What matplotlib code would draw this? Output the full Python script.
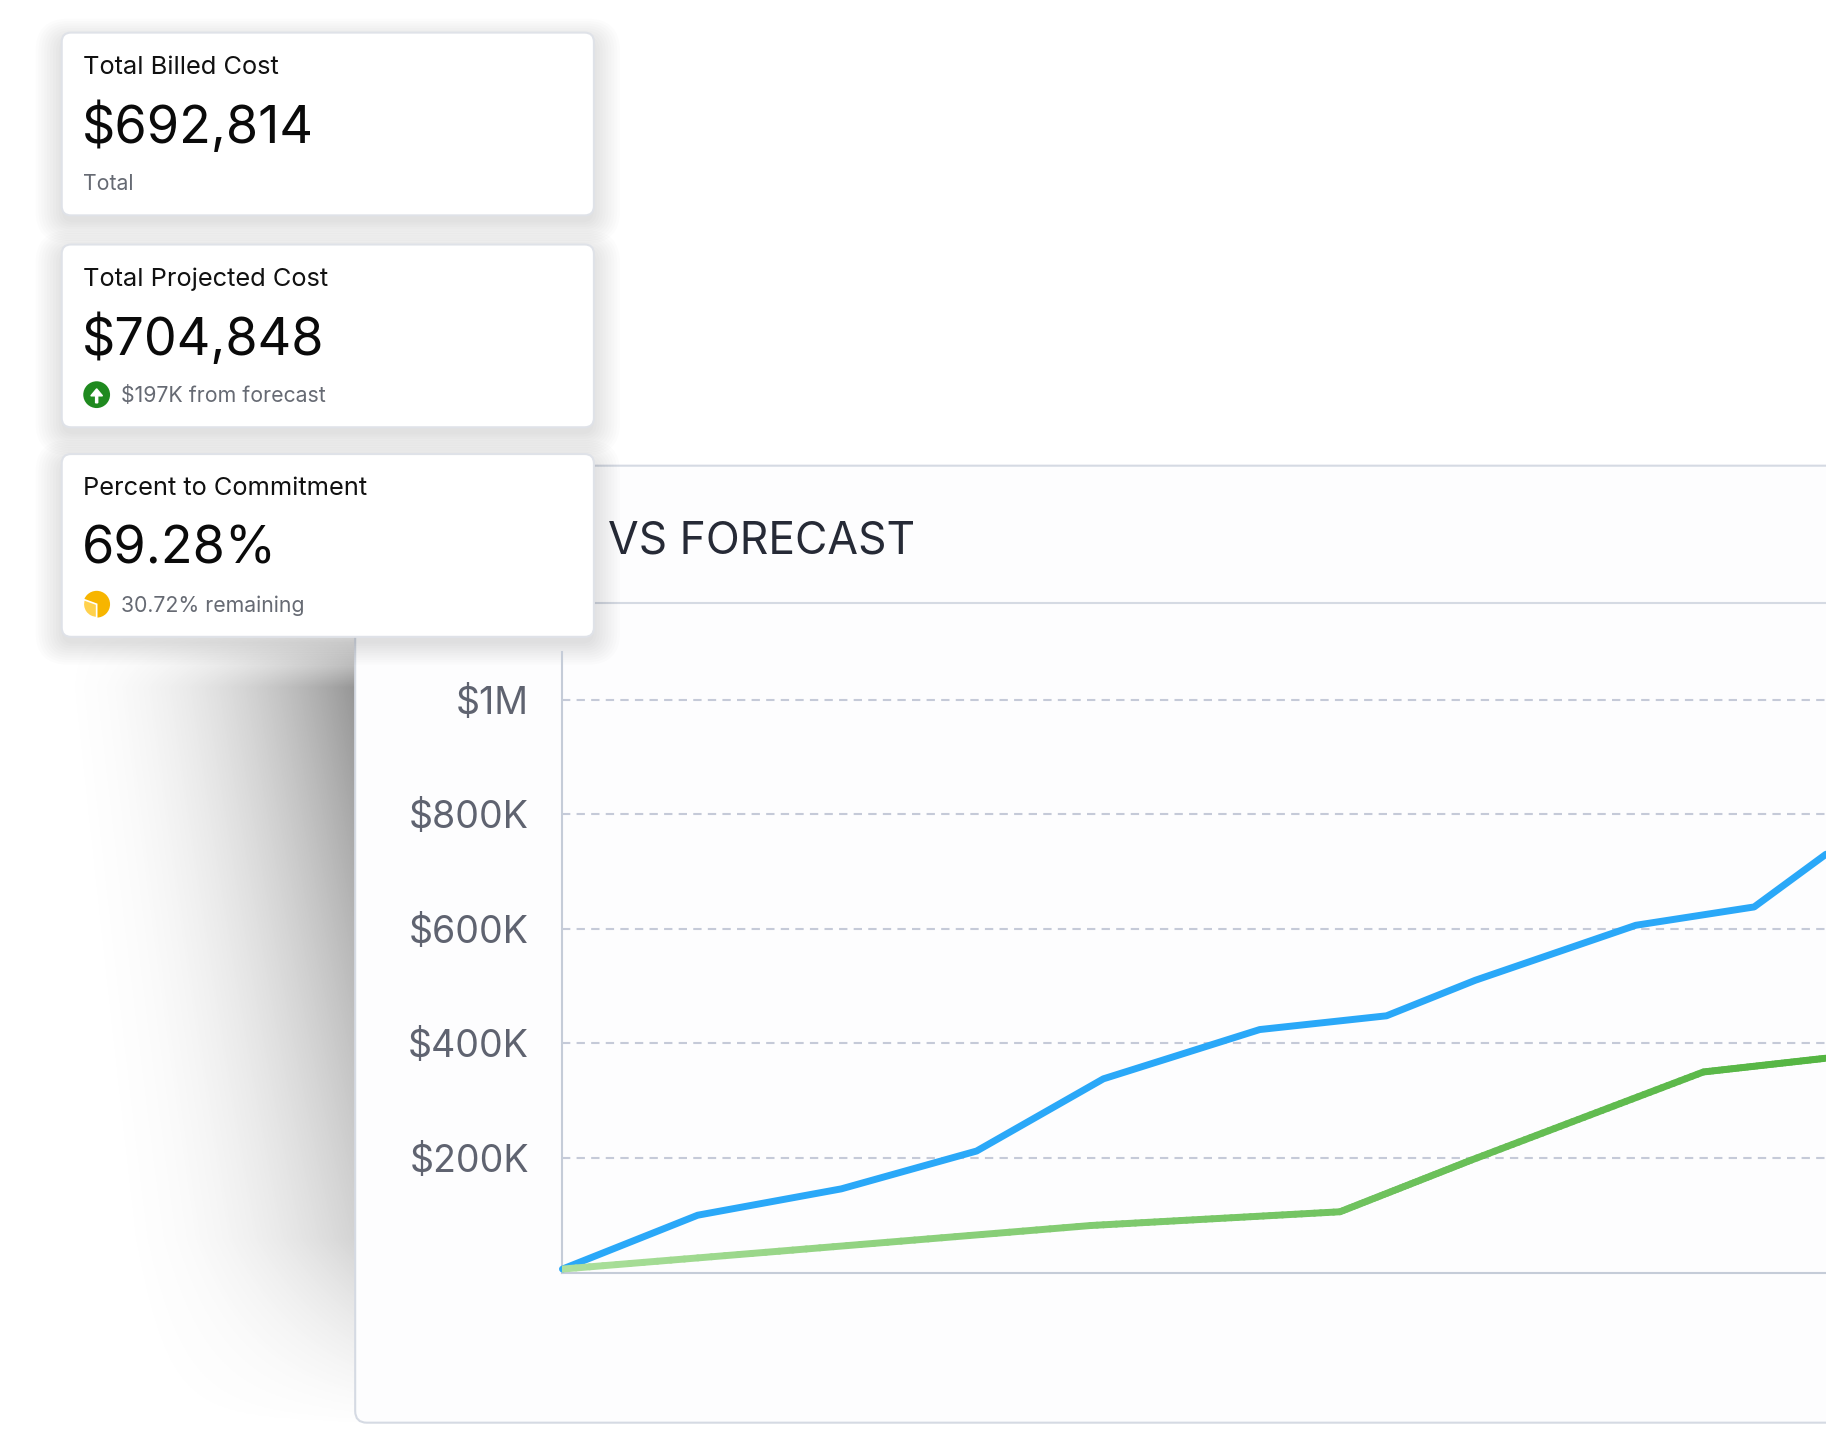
import numpy as np
import matplotlib
matplotlib.use("Agg")
import matplotlib.pyplot as plt
from matplotlib.patches import FancyBboxPatch, Circle, Wedge, FancyArrow
from matplotlib.collections import LineCollection

plt.rcParams['font.family'] = ['Inter', 'DejaVu Sans']

# ---- data ----
blue_days = [0, 3.2, 6.6, 9.8, 12.8, 16.5, 19.5, 21.6, 25.4, 28.2, 29.9]
blue_vals = [6000, 100000, 146000, 212000, 338000, 424000, 448000, 510000, 606000, 638000, 730000]
green_days = [0, 12.5, 18.4, 21.5, 27.0, 29.9]
green_vals = [6000, 82000, 106000, 196000, 350000, 374000]
y_ticks = [200000, 400000, 600000, 800000, 1000000]
y_tick_labels = ['$200K', '$400K', '$600K', '$800K', '$1M']
card_titles = ['Total Billed Cost', 'Total Projected Cost', 'Percent to Commitment']
card_values = ['$692,814', '$704,848', '69.28%']
card_notes = ['Total', '$197K from forecast', '30.72% remaining']

W, H = 1568, 1230
fig = plt.figure(figsize=(18.26, 14.32), dpi=100)
fig.patch.set_facecolor('white')
bg = fig.add_axes([0, 0, 1, 1])
bg.set_xlim(0, W); bg.set_ylim(H, 0); bg.axis('off')

# shadow to the left of panel
xs = np.linspace(0, 310, 300); ys = np.linspace(540, 1230, 400)
X, Y = np.meshgrid(xs, ys)
dx = np.clip((X - 40 - (Y - 540) * 0.1) / 265, 0, 1)
vy = np.clip((Y - 540) / 50, 0, 1) * np.clip((1225 - Y) / 160, 0, 1)
alpha = (dx ** 2.0) * vy * (1.0 - 0.5 * np.clip((Y - 560) / 640, 0, 1)) * 0.8
img = np.zeros(X.shape + (4,)); img[..., :3] = 0.45; img[..., 3] = alpha
bg.imshow(img, extent=[0, 310, 1230, 540], origin='upper', aspect='auto', zorder=1)

# panel
bg.add_patch(FancyBboxPatch((305, 400), 1400, 822, boxstyle="round,pad=0,rounding_size=10",
                            fc='#fdfdfe', ec='#d5dae3', lw=1.5, zorder=2))
bg.plot([305, W], [518, 518], color='#d5dae3', lw=1.5, zorder=3)
bg.text(522, 465, 'VS FORECAST', fontsize=32, color='#262a36', va='center', zorder=3)

# cards
tops = [28, 210, 390]
for i, t in enumerate(tops):
    for k in range(10):
        bg.add_patch(FancyBboxPatch((53 - k * 2.5, t + 6 - k * 2), 457 + k * 5, 157 + k * 4,
                                    boxstyle="round,pad=0,rounding_size=%d" % (10 + 2 * k), fc='black',
                                    ec='none', alpha=0.01, zorder=5))
    bg.add_patch(FancyBboxPatch((53, t), 457, 157, boxstyle="round,pad=0,rounding_size=8",
                                fc='white', ec='#dfe2e8', lw=1.5, zorder=6))
    bg.text(71, t + 30, card_titles[i], fontsize=18.3, color='#111111', va='center', zorder=7)
    bg.text(70, t + 82, card_values[i], fontsize=37.5, color='#0a0a0a', va='center', zorder=7)
    nx = 71 if i == 0 else 104
    bg.text(nx, t + 130, card_notes[i], fontsize=15.3, color='#666a73', va='center', zorder=7)
# icons
bg.add_patch(Circle((83, 339), 11.5, fc='#1f8a1f', zorder=7))
bg.add_patch(FancyArrow(83, 346, 0, -12, width=1.8, head_width=10, head_length=6,
                        fc='white', ec='white', zorder=8, length_includes_head=True))
bg.add_patch(Circle((83, 519), 11.5, fc='#f7b500', zorder=7))
bg.add_patch(Wedge((83, 519), 11.5, 90, 200, fc='#ffd14d', ec='white', lw=1.2, zorder=8))

# chart axes
ax = fig.add_axes([483 / W, 1 - 1093 / H, 1 - 483 / W, (1093 - 560) / H])
ax.set_facecolor('none')
ax.set_zorder(4)
ax.set_xlim(0, 29.9)
ax.set_ylim(0, 1083000)
for s in ['top', 'right']:
    ax.spines[s].set_visible(False)
for s in ['left', 'bottom']:
    ax.spines[s].set_color('#c5ccd8'); ax.spines[s].set_linewidth(1.5)
ax.set_yticks(y_ticks)
ax.set_yticklabels(y_tick_labels, fontsize=27, color='#5f6370')
ax.tick_params(axis='y', length=0, pad=24)
ax.set_xticks([])
for v in y_ticks:
    ax.axhline(v, color='#c5cad8', lw=1.5, ls=(0, (4, 3)), zorder=1)

ax.plot(blue_days, blue_vals, color='#2aa8f8', lw=5, solid_joinstyle='round',
        solid_capstyle='round', zorder=3, clip_on=False)

pts = []
for a, b, va, vb in zip(green_days[:-1], green_days[1:], green_vals[:-1], green_vals[1:]):
    tt = np.linspace(0, 1, 40)
    pts.append(np.column_stack([a + (b - a) * tt, va + (vb - va) * tt]))
pts = np.vstack(pts)
segs = np.stack([pts[:-1], pts[1:]], axis=1)
frac = pts[:-1, 0] / green_days[-1]
c0 = np.array([0.68, 0.88, 0.62]); c1 = np.array([0.33, 0.71, 0.26])
cols = c0 + (c1 - c0) * frac[:, None] ** 0.8
lc = LineCollection(segs, colors=cols, linewidths=5, capstyle='round', zorder=3)
ax.add_collection(lc)

fig.savefig('out.png', dpi=100)
